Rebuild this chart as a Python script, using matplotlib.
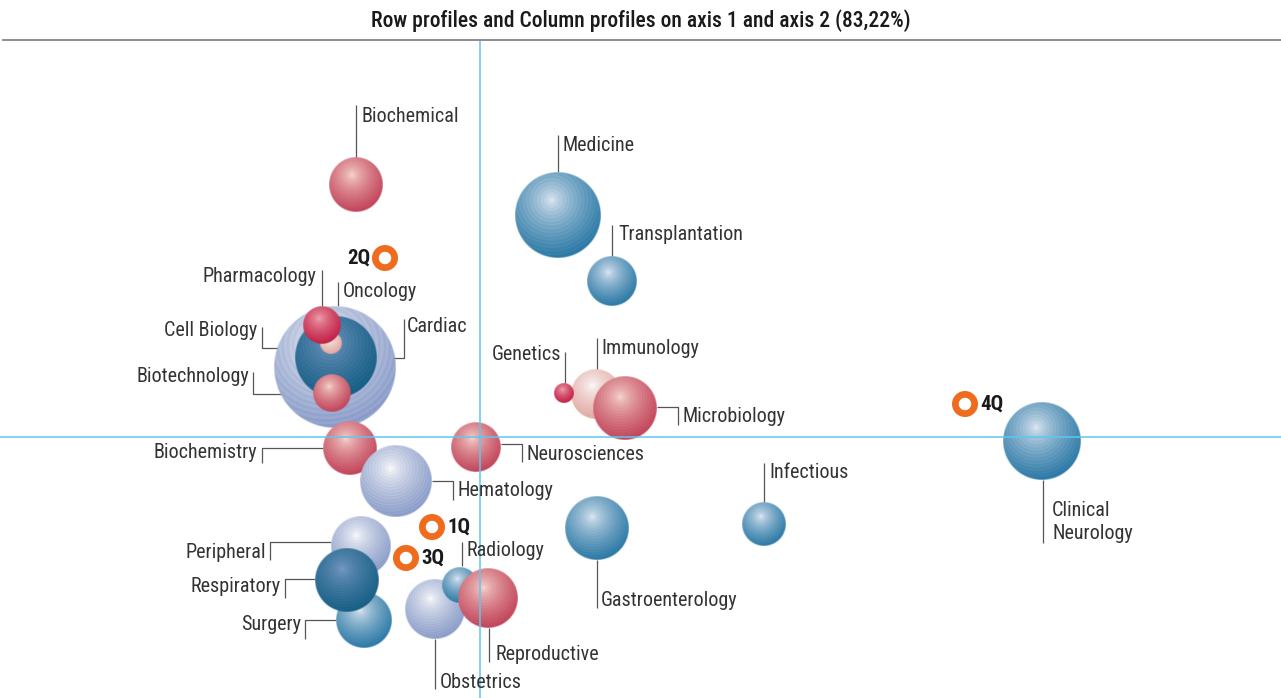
import numpy as np
import matplotlib
matplotlib.use("Agg")
import matplotlib.pyplot as plt
from matplotlib import font_manager
from matplotlib.patches import Wedge
from matplotlib.lines import Line2D
from matplotlib.colors import to_rgb

# row / column profiles: coordinates on axis 1 and axis 2, bubble weight (radius in axis units)
categories = ['Oncology', 'Cardiac', 'Cell Biology', 'Pharmacology', 'Biotechnology',
              'Biochemical', 'Medicine', 'Transplantation', 'Immunology', 'Genetics',
              'Microbiology', 'Clinical\nNeurology', 'Biochemistry', 'Hematology',
              'Neurosciences', 'Gastroenterology', 'Infectious', 'Peripheral', 'Surgery',
              'Respiratory', 'Obstetrics', 'Radiology', 'Reproductive']
axis1 = [-1.45, -1.44, -1.49, -1.58, -1.48, -1.24, 0.78, 1.32, 1.16, 0.84, 1.45, 5.62,
         -1.30, -0.84, -0.04, 1.17, 2.84, -1.19, -1.16, -1.33, -0.45, -0.20, 0.08]
axis2 = [0.70, 0.80, 0.94, 1.12, 0.44, 2.52, 2.22, 1.56, 0.43, 0.44, 0.29, -0.04,
         -0.11, -0.44, -0.10, -0.91, -0.87, -1.09, -1.83, -1.43, -1.72, -1.48, -1.61]
weight = [0.61, 0.41, 0.11, 0.19, 0.19, 0.27, 0.43, 0.25, 0.25, 0.10, 0.32, 0.39,
          0.27, 0.36, 0.25, 0.32, 0.22, 0.30, 0.28, 0.32, 0.30, 0.18, 0.30]
group = ['pale_blue', 'teal', 'pink', 'crimson', 'red', 'red', 'blue', 'blue', 'pink',
         'crimson', 'red', 'blue', 'red', 'pale_blue', 'red', 'blue', 'blue', 'pale_blue',
         'blue', 'teal', 'pale_blue', 'blue', 'red']

quarters = ['1Q', '2Q', '3Q', '4Q']
q_axis1 = [-0.48, -0.95, -0.74, 4.85]
q_axis2 = [-0.90, 1.79, -1.21, 0.33]

title = 'Row profiles and Column profiles on axis 1 and axis 2 (83,22%)'

# styling
PX = 100.0  # pixels per axis unit
palette = {
    'red': ('#fbdcd4', '#c8455c'),
    'crimson': ('#f5a8b2', '#c81f48'),
    'pink': ('#ffffff', '#eaaea6'),
    'blue': ('#e6edf7', '#2b7cab'),
    'pale_blue': ('#ffffff', '#8fa2d0'),
    'teal': ('#7a9cc6', '#17628a'),
}
# leader polyline and text anchor, in pixel offsets from bubble centre (y down)
leaders = {
    'Biochemical': ([(0, -27), (0, -80)], (5, -69), 'left'),
    'Medicine': ([(0, -43), (0, -80)], (4, -70), 'left'),
    'Transplantation': ([(0, -25), (0, -56)], (6, -47), 'left'),
    'Pharmacology': ([(0, -19), (0, -55)], (-6, -49), 'right'),
    'Oncology': ([(3, -61), (3, -85)], (8, -76), 'left'),
    'Cardiac': ([(41, 1), (68, 1), (68, -38)], (71, -30), 'left'),
    'Cell Biology': ([(-9, 5), (-69, 5), (-69, -16)], (-74, -12), 'right'),
    'Biotechnology': ([(-19, 1), (-79, 1), (-79, -21)], (-83, -17), 'right'),
    'Genetics': ([(1, -10), (1, -41)], (-3, -38), 'right'),
    'Immunology': ([(1, -24), (1, -56)], (5, -45), 'left'),
    'Microbiology': ([(32, -1), (53, -1), (53, 17)], (57, 8), 'left'),
    'Clinical\nNeurology': ([(1, 39), (1, 102)], (10, 81), 'left'),
    'Biochemistry': ([(-27, 0), (-88, 0), (-88, 15)], (-93, 5), 'right'),
    'Neurosciences': ([(25, -3), (46, -3), (46, 15)], (50, 7), 'left'),
    'Hematology': ([(36, 0), (57, 0), (57, 19)], (61, 9), 'left'),
    'Peripheral': ([(-30, -4), (-91, -4), (-91, 14)], (-95, 6), 'right'),
    'Respiratory': ([(-32, -1), (-62, -1), (-62, 18)], (-66, 6), 'right'),
    'Surgery': ([(-28, 0), (-59, 0), (-59, 19)], (-63, 5), 'right'),
    'Radiology': ([(2, -19), (2, -43)], (6, -35), 'left'),
    'Obstetrics': ([(0, 30), (0, 80)], (5, 73), 'left'),
    'Reproductive': ([(1, 30), (1, 64)], (7, 57), 'left'),
    'Gastroenterology': ([(0, 32), (0, 80)], (4, 72), 'left'),
    'Infectious': ([(0, -22), (0, -61)], (5, -51), 'left'),
}
q_label = {'1Q': (15, 'left'), '2Q': (-15, 'right'), '3Q': (15, 'left'), '4Q': (15, 'left')}


def pick_font(names):
    for name in names:
        try:
            font_manager.findfont(name, fallback_to_default=False)
            return name
        except ValueError:
            continue
    return 'DejaVu Sans'


font = pick_font(['Liberation Sans Narrow', 'DejaVu Sans Condensed', 'Roboto Condensed', 'Liberation Sans'])
plt.rcParams['font.family'] = [font, 'DejaVu Sans']


def sphere(ax, x, y, r, light, dark, hl=(-0.15, 0.35)):
    n = max(80, int(r * PX * 4))
    g = np.linspace(-1, 1, n)
    gx, gy = np.meshgrid(g, g[::-1])
    rho = np.hypot(gx, gy)
    d = np.hypot(gx - hl[0], gy - hl[1]) / (1 + np.hypot(*hl))
    t = np.clip(d, 0, 1) ** 0.7
    rings = 0.5 + 0.5 * np.sin(2 * np.pi * d * 16)
    lo, hi = np.array(to_rgb(light)), np.array(to_rgb(dark))
    c = lo * (1 - t[..., None]) + hi * t[..., None]
    c = c * (1 - 0.07 * rings[..., None] * t[..., None] ** 0.5)
    alpha = np.clip((1 - rho) * r * PX + 0.5, 0, 1)
    img = np.dstack([np.clip(c, 0, 1), alpha])
    ax.imshow(img, extent=(x - r, x + r, y - r, y + r), origin='upper',
              interpolation='bilinear', zorder=2)


W, H = 1281, 698
fig = plt.figure(figsize=(W / 100, H / 100), dpi=100)
top = 40
ax = fig.add_axes([0, 0, 1, (H - top) / H])
ax.set_axis_off()

for name, x, y, r, grp in zip(categories, axis1, axis2, weight, group):
    light, dark = palette[grp]
    sphere(ax, x, y, r, light, dark)
    pts, (tx, ty), ha = leaders[name]
    ax.plot([x + px / PX for px, py in pts], [y - py / PX for px, py in pts],
            color='#555555', lw=0.9, zorder=1, solid_capstyle='butt')
    ax.text(x + tx / PX, y - ty / PX, name, ha=ha, va='center', fontsize=14.5,
            color='#333333', linespacing=1.3, zorder=4)

ax.axhline(0, color='#5cc8ee', lw=1.1, zorder=3)
ax.axvline(0, color='#5cc8ee', lw=1.1, zorder=3)

for q, x, y in zip(quarters, q_axis1, q_axis2):
    ax.add_patch(Wedge((x, y), 0.13, 0, 360, width=0.068, facecolor='#ef6c1e',
                       edgecolor='none', lw=0, zorder=5))
    dx, ha = q_label[q]
    ax.text(x + dx / PX, y, q, ha=ha, va='center', fontsize=15, fontweight='bold',
            color='#1a1a1a', zorder=5)

ax.set_xlim(-480 / PX, (W - 480) / PX)
ax.set_ylim((437 - H) / PX, (437 - top) / PX)

fig.add_artist(Line2D([3 / W, 1], [1 - top / H] * 2, transform=fig.transFigure,
                      color='#8c8c8c', lw=1.4))
fig.text(0.5, 1 - 21 / H, title, ha='center', va='center', fontsize=15.5,
         fontweight='medium', color='#1a1a1a')

fig.savefig('out.png', dpi=100)
